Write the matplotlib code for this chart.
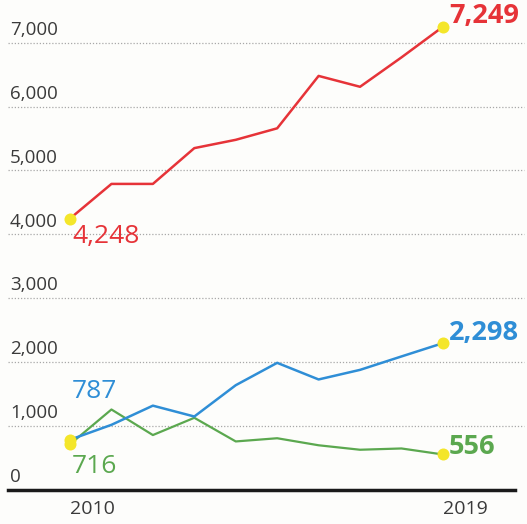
import matplotlib.pyplot as plt

plt.rcParams['font.family'] = ['Open Sans', 'DejaVu Sans']

years = [2010, 2011, 2012, 2013, 2014, 2015, 2016, 2017, 2018, 2019]
red_vals = [4248, 4790, 4790, 5350, 5480, 5660, 6480, 6310, 6770, 7249]
blue_vals = [787, 1020, 1320, 1150, 1640, 1990, 1730, 1880, 2090, 2298]
green_vals = [716, 1260, 860, 1130, 760, 810, 700, 630, 650, 556]
grid_vals = [1000, 2000, 3000, 4000, 5000, 6000, 7000]
tick_labels = ['0', '1,000', '2,000', '3,000', '4,000', '5,000', '6,000', '7,000']

RED = '#e63338'
BLUE = '#2f8ed6'
GREEN = '#5ba84f'
YELLOW = '#f4e62a'
TEXT = '#3a3a3a'

fig = plt.figure(figsize=(5.27, 5.24), dpi=100)
fig.patch.set_facecolor('#fdfdfb')
ax = fig.add_axes([0, 0, 1, 1])
ax.set_facecolor('#fdfdfb')
ax.set_xlim(2008.31, 2021.03)
ax.set_ylim(-532, 7668)
ax.axis('off')

# dotted gridlines + labels above them
for v in grid_vals:
    ax.plot([2008.5, 2020.95], [v, v], linestyle=(0, (1, 1.5)), color='#a8a8a8', lw=0.9, zorder=1)
for v, lab in zip([0] + grid_vals, tick_labels):
    ax.text(2008.55, v + 60, lab, fontsize=13.5, color=TEXT, ha='left', va='bottom', zorder=2)

# baseline
ax.plot([2008.5, 2020.75], [0, 0], color='#1a1a1a', lw=2.5, zorder=3)

ax.plot(years, green_vals, color=GREEN, lw=1.6, zorder=4)
ax.plot(years, blue_vals, color=BLUE, lw=1.8, zorder=5)
ax.plot(years, red_vals, color=RED, lw=1.8, zorder=6)

# yellow end dots
for vals in (red_vals, blue_vals, green_vals):
    ax.scatter([years[0], years[-1]], [vals[0], vals[-1]], s=75, color=YELLOW, zorder=7, linewidths=0)

# value labels
ax.text(2010.05, red_vals[0] - 90, '4,248', color=RED, fontsize=19, ha='left', va='top', zorder=8)
ax.text(2019.15, red_vals[-1] - 40, '7,249', color=RED, fontsize=19.5, fontweight='bold', ha='left', va='bottom', zorder=8)
ax.text(2010.05, blue_vals[0] + 560, '787', color=BLUE, fontsize=19, ha='left', va='bottom', zorder=8)
ax.text(2010.05, green_vals[0] - 150, '716', color=GREEN, fontsize=19, ha='left', va='top', zorder=8)
ax.text(2019.15, blue_vals[-1] - 40, '2,298', color=BLUE, fontsize=19.5, fontweight='bold', ha='left', va='bottom', zorder=8)
ax.text(2019.15, green_vals[-1] - 80, '556', color=GREEN, fontsize=19.5, fontweight='bold', ha='left', va='bottom', zorder=8)

# year labels
ax.text(years[0], -160, str(years[0]), fontsize=14, color=TEXT, ha='left', va='top')
ax.text(years[-1], -160, str(years[-1]), fontsize=14, color=TEXT, ha='left', va='top')

fig.savefig('out.png', dpi=100, facecolor=fig.get_facecolor())
